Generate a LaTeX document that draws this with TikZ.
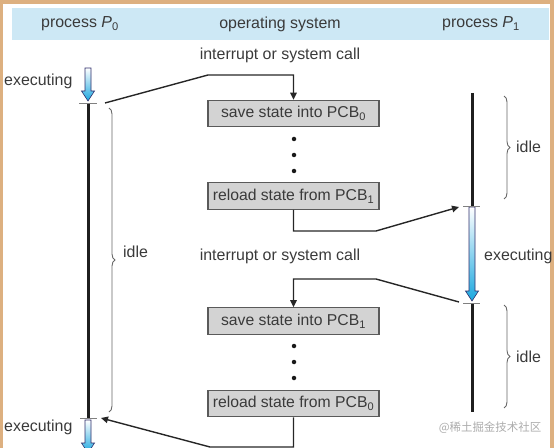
\documentclass[tikz,border=0pt]{standalone}
\usepackage{fontspec}
\setmainfont{Liberation Sans}
\newfontfamily\cjkfont{Noto Sans CJK SC}
\usetikzlibrary{arrows.meta,decorations.pathreplacing}
\definecolor{txt}{HTML}{3A3A3A}
\definecolor{band}{HTML}{CDE8F5}
\definecolor{framec}{HTML}{DDB080}
\definecolor{boxfill}{HTML}{D3D3D3}
\definecolor{boxline}{HTML}{5A5A5A}
\definecolor{cyanb}{HTML}{1AA7DF}
\newcommand\bluearrow[3]{%
  \shade[top color=white, bottom color=cyanb, draw=gray!60!blue!60!black, line width=0.6bp]
    (#1-3,#2) -- (#1+3,#2) -- (#1+3,#3-10) -- (#1+6.5,#3-10) -- (#1,#3)
    -- (#1-6.5,#3-10) -- (#1-3,#3-10) -- cycle;}
\begin{document}
\begin{tikzpicture}[x=1bp,y=-1bp,
  lbl/.style={font=\fontsize{16}{18}\selectfont, text=txt, inner sep=0pt},
  pcb/.style={draw=boxline, line width=1.2bp, fill=boxfill, minimum width=171bp,
    minimum height=26.5bp, inner sep=0pt, font=\fontsize{15.8}{18}\selectfont, text=txt},
  flow/.style={draw=black!85, line width=1.4bp},
  tipend/.style={-{Triangle[length=7bp,width=6.5bp]}},
  lifeline/.style={line width=3bp, draw=black!88},
  tickmark/.style={draw=gray, line width=0.9bp},
  dotnode/.style={circle, fill=black!90, inner sep=0pt, minimum size=4.5bp},
  idlebrace/.style={draw=gray!80!black, line width=0.9bp, decorate,
    decoration={brace, amplitude=6bp}}]
\useasboundingbox (0,0) rectangle (554,448);
% frame and header band
\fill[framec] (0,0) rectangle (3,448);
\fill[framec] (0,0) rectangle (554,4);
\fill[framec] (550,0) rectangle (554,448);
\fill[band] (12,8) rectangle (549,40);
\node[lbl] (h0) at (80,24) {process \textit{P}\textsubscript{0}};
\node[lbl] (hos) at (280,24) {operating system};
\node[lbl] (h1) at (481,24) {process \textit{P}\textsubscript{1}};
% OS boxes
\node[pcb] (s0) at (293.5,113.5) {save state into PCB\textsubscript{0}};
\node[pcb] (r1) at (293.5,196) {reload state from PCB\textsubscript{1}};
\node[pcb] (s1) at (293.5,321) {save state into PCB\textsubscript{1}};
\node[pcb] (r0) at (293.5,403.5) {reload state from PCB\textsubscript{0}};
\node[dotnode] (d1) at (294,139) {};
\node[dotnode] (d2) at (294,155) {};
\node[dotnode] (d3) at (294,171) {};
\node[dotnode] (d4) at (294,346) {};
\node[dotnode] (d5) at (294,362) {};
\node[dotnode] (d6) at (294,378) {};
% labels
\node[lbl] (int1) at (280,55) {interrupt or system call};
\node[lbl] (int2) at (280,256) {interrupt or system call};
\node[lbl, anchor=west] (ex0a) at (4,81) {executing};
\node[lbl, anchor=west] (ex0b) at (4,427) {executing};
\node[lbl, anchor=west] (ex1) at (484,256) {executing};
\node[lbl, anchor=west] (idle0) at (123,252) {idle};
\node[lbl, anchor=west] (idle1a) at (516,147) {idle};
\node[lbl, anchor=west] (idle1b) at (516,357) {idle};
% process lifelines
\draw[lifeline] (88,103) -- (88,418);
\draw[lifeline] (472,93) -- (472,206);
\draw[lifeline] (472,303) -- (472,412);
\bluearrow{88}{68}{101}
\bluearrow{88}{420}{453}
\bluearrow{472}{207}{301}
\draw[tickmark] (79,103) -- (97,103);
\draw[tickmark] (80,418) -- (97,418);
\draw[tickmark] (463,206) -- (480,206);
\draw[tickmark] (463,303) -- (480,303);
% braces
\draw[idlebrace] (109,108) -- (109,412);
\draw[idlebrace] (504,96) -- (504,199);
\draw[idlebrace] (504,305) -- (504,408);
% connection points
\coordinate (p0out) at (105,103);
\coordinate (p0in) at (101,418);
\coordinate (p1in) at (459,207);
\coordinate (p1out) at (459,302);
\coordinate (k1) at (208,75);
\coordinate (k2) at (376,231);
\coordinate (k3) at (376,279);
\coordinate (k4) at (210,447);
\draw[flow,tipend] (p0out) -- (k1) -| (s0.north);
\draw[flow,tipend] (r1.south) |- (k2) -- (p1in);
\draw[flow,tipend] (p1out) -- (k3) -| (s1.north);
\draw[flow,tipend] (r0.south) |- (k4) -- (p0in);
% watermark
\node[font=\cjkfont\fontsize{11.5}{13}\selectfont, text=gray!65, inner sep=0pt] (wm) at (490,428) {@稀土掘金技术社区};
\end{tikzpicture}
\end{document}
